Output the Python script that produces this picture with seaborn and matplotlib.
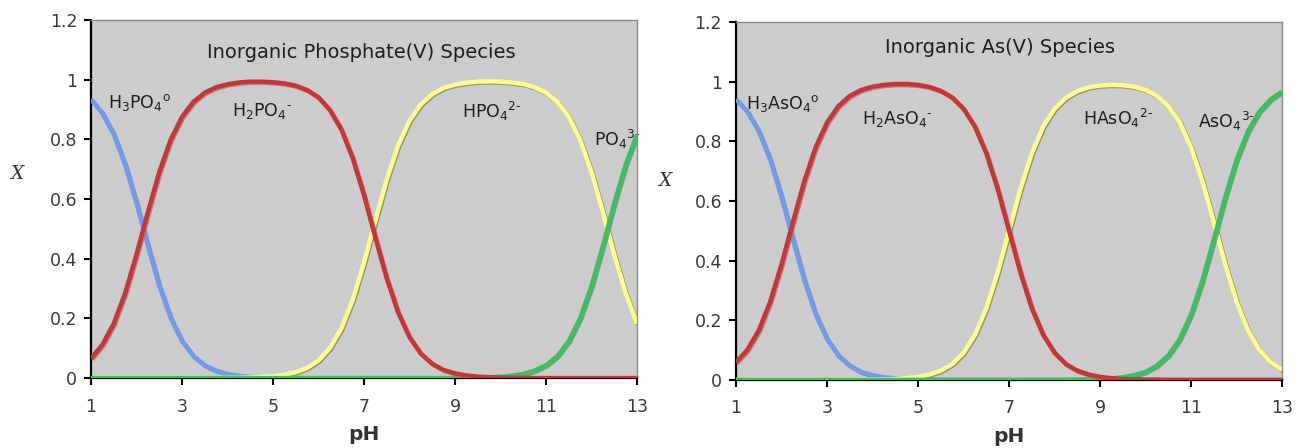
import numpy as np
import pandas as pd
import matplotlib
matplotlib.use("Agg")
import matplotlib.pyplot as plt
import matplotlib.patheffects as pe
import seaborn as sns

# pH grid (step 0.25) and mole fractions
ph = [1.0, 1.25, 1.5, 1.75, 2.0, 2.25, 2.5, 2.75, 3.0, 3.25, 3.5, 3.75,
      4.0, 4.25, 4.5, 4.75, 5.0, 5.25, 5.5, 5.75, 6.0, 6.25, 6.5, 6.75,
      7.0, 7.25, 7.5, 7.75, 8.0, 8.25, 8.5, 8.75, 9.0, 9.25, 9.5, 9.75,
      10.0, 10.25, 10.5, 10.75, 11.0, 11.25, 11.5, 11.75, 12.0, 12.25, 12.5, 12.75, 13.0]

# phosphate(V)
h3po4 = [0.934, 0.888, 0.817, 0.715, 0.586, 0.443, 0.309, 0.201, 0.124, 0.074, 0.043, 0.025,
         0.014, 0.008, 0.004, 0.003, 0.001, 0.001, 0.0, 0.0, 0.0, 0.0, 0.0, 0.0,
         0.0, 0.0, 0.0, 0.0, 0.0, 0.0, 0.0, 0.0, 0.0, 0.0, 0.0, 0.0,
         0.0, 0.0, 0.0, 0.0, 0.0, 0.0, 0.0, 0.0, 0.0, 0.0, 0.0, 0.0, 0.0]
h2po4 = [0.066, 0.112, 0.183, 0.285, 0.415, 0.557, 0.691, 0.799, 0.876, 0.926, 0.957, 0.975,
         0.985, 0.991, 0.994, 0.994, 0.992, 0.988, 0.980, 0.966, 0.941, 0.899, 0.834, 0.738,
         0.613, 0.471, 0.334, 0.220, 0.137, 0.082, 0.048, 0.027, 0.016, 0.009, 0.005, 0.003,
         0.002, 0.001, 0.001, 0.0, 0.0, 0.0, 0.0, 0.0, 0.0, 0.0, 0.0, 0.0, 0.0]
hpo4 = [0.0, 0.0, 0.0, 0.0, 0.0, 0.0, 0.0, 0.0, 0.0, 0.0, 0.0, 0.0,
        0.001, 0.001, 0.002, 0.004, 0.006, 0.011, 0.020, 0.034, 0.059, 0.101, 0.166, 0.262,
        0.387, 0.529, 0.666, 0.780, 0.863, 0.918, 0.952, 0.973, 0.984, 0.990, 0.994, 0.995,
        0.994, 0.991, 0.986, 0.975, 0.957, 0.926, 0.876, 0.799, 0.691, 0.557, 0.414, 0.285, 0.183]
po4 = [0.0, 0.0, 0.0, 0.0, 0.0, 0.0, 0.0, 0.0, 0.0, 0.0, 0.0, 0.0,
       0.0, 0.0, 0.0, 0.0, 0.0, 0.0, 0.0, 0.0, 0.0, 0.0, 0.0, 0.0,
       0.0, 0.0, 0.0, 0.0, 0.0, 0.0, 0.0, 0.0, 0.0, 0.001, 0.001, 0.003,
       0.004, 0.008, 0.014, 0.025, 0.043, 0.074, 0.124, 0.201, 0.309, 0.443, 0.586, 0.715, 0.817]

# arsenic(V)
h3aso4 = [0.941, 0.899, 0.834, 0.738, 0.613, 0.471, 0.334, 0.220, 0.137, 0.082, 0.048, 0.027,
          0.016, 0.009, 0.005, 0.003, 0.002, 0.001, 0.0, 0.0, 0.0, 0.0, 0.0, 0.0,
          0.0, 0.0, 0.0, 0.0, 0.0, 0.0, 0.0, 0.0, 0.0, 0.0, 0.0, 0.0,
          0.0, 0.0, 0.0, 0.0, 0.0, 0.0, 0.0, 0.0, 0.0, 0.0, 0.0, 0.0, 0.0]
h2aso4 = [0.059, 0.101, 0.166, 0.262, 0.387, 0.529, 0.666, 0.780, 0.863, 0.918, 0.952, 0.972,
          0.983, 0.989, 0.992, 0.992, 0.989, 0.982, 0.969, 0.947, 0.909, 0.849, 0.760, 0.640,
          0.500, 0.360, 0.240, 0.151, 0.091, 0.053, 0.031, 0.018, 0.010, 0.006, 0.003, 0.002,
          0.001, 0.001, 0.0, 0.0, 0.0, 0.0, 0.0, 0.0, 0.0, 0.0, 0.0, 0.0, 0.0]
haso4 = [0.0, 0.0, 0.0, 0.0, 0.0, 0.0, 0.0, 0.0, 0.0, 0.0, 0.0, 0.001,
         0.001, 0.002, 0.003, 0.006, 0.010, 0.018, 0.031, 0.053, 0.091, 0.151, 0.240, 0.360,
         0.500, 0.640, 0.760, 0.849, 0.909, 0.946, 0.968, 0.981, 0.987, 0.989, 0.988, 0.983,
         0.972, 0.952, 0.918, 0.863, 0.780, 0.666, 0.529, 0.387, 0.262, 0.166, 0.101, 0.059, 0.034]
aso4 = [0.0, 0.0, 0.0, 0.0, 0.0, 0.0, 0.0, 0.0, 0.0, 0.0, 0.0, 0.0,
        0.0, 0.0, 0.0, 0.0, 0.0, 0.0, 0.0, 0.0, 0.0, 0.0, 0.0, 0.0,
        0.0, 0.0, 0.0, 0.0, 0.0, 0.0, 0.001, 0.002, 0.003, 0.005, 0.009, 0.016,
        0.027, 0.048, 0.082, 0.137, 0.220, 0.334, 0.471, 0.613, 0.738, 0.834, 0.899, 0.941, 0.966]

xticks = [1, 3, 5, 7, 9, 11, 13]
yticks = [0, 0.2, 0.4, 0.6, 0.8, 1.0, 1.2]
ytick_labels = ["0", "0.2", "0.4", "0.6", "0.8", "1", "1.2"]

colors = ["#6f9bf5", "#cc3333", "#ffff88", "#33c45a"]
draw_order = [0, 2, 3, 1]  # red drawn last so it sits on top along the baseline

sns.set_style("ticks")
plt.rcParams["font.family"] = ["DejaVu Sans"]
plt.rcParams["mathtext.default"] = "regular"

fig = plt.figure(figsize=(13.08, 4.48), dpi=100)
ax1 = fig.add_axes([0.0696, 0.156, 0.4174, 0.799])
ax2 = fig.add_axes([0.5627, 0.152, 0.4175, 0.799])

HY = "\u2010"  # short hyphen for the charge signs

panels = [
    (ax1, [h3po4, h2po4, hpo4, po4], "Inorganic Phosphate(V) Species", (6.95, 1.093),
     [("H$_3$PO$_4$$^o$", 1.37, 0.925, "left"),
      ("H$_2$PO$_4$$^{" + HY + "}$", 4.75, 0.895, "center"),
      ("HPO$_4$$^{2" + HY + "}$", 9.8, 0.895, "center"),
      ("PO$_4$$^{3" + HY + "}$", 12.05, 0.80, "left")], (-0.135, 0.545)),
    (ax2, [h3aso4, h2aso4, haso4, aso4], "Inorganic As(V) Species", (6.8, 1.113),
     [("H$_3$AsO$_4$$^o$", 1.22, 0.925, "left"),
      ("H$_2$AsO$_4$$^{" + HY + "}$", 4.55, 0.875, "center"),
      ("HAsO$_4$$^{2" + HY + "}$", 9.4, 0.875, "center"),
      ("AsO$_4$$^{3" + HY + "}$", 11.15, 0.865, "left")], (-0.13, 0.53)),
]

for ax, series, title, tpos, labels, ylab_pos in panels:
    ax.set_facecolor("#cccccc")
    for i in draw_order:
        sns.lineplot(x=ph, y=series[i], color=colors[i], linewidth=3.2, ax=ax,
                     legend=False, zorder=3 + draw_order.index(i))
    for line in ax.lines:
        line.set_path_effects([pe.SimpleLineShadow(offset=(0.8, -0.8), shadow_color="#808080", alpha=0.8),
                               pe.Normal()])
        line.set_solid_capstyle("butt")
    ax.set_xlim(1, 13)
    ax.set_ylim(0, 1.2)
    ax.set_xticks(xticks)
    ax.set_yticks(yticks)
    ax.set_yticklabels(ytick_labels)
    ax.tick_params(axis="both", direction="out", length=5, width=1.5, colors="black",
                   labelsize=12.5, labelcolor="#3a3a3a")
    ax.tick_params(axis="x", pad=9)
    ax.tick_params(axis="y", pad=5)
    for side in ["left", "bottom"]:
        ax.spines[side].set_color("black")
        ax.spines[side].set_linewidth(1.6)
    for side in ["top", "right"]:
        ax.spines[side].set_visible(True)
        ax.spines[side].set_color("#8a8a8a")
        ax.spines[side].set_linewidth(1.0)
    ax.set_xlabel("pH", fontsize=14.5, fontweight="bold", color="#333333", labelpad=7)
    ax.set_ylabel("X", fontsize=13.5, fontstyle="italic", family="DejaVu Serif",
                  rotation=0, color="#333333")
    ax.yaxis.set_label_coords(*ylab_pos)
    ax.text(tpos[0], tpos[1], title, fontsize=14, color="#1e1e1e", ha="center", va="center")
    for txt, x, y, ha in labels:
        ax.text(x, y, txt, fontsize=12.5, color="#1e1e1e", ha=ha, va="center", zorder=2)

fig.savefig("out.png", dpi=100, facecolor="white")
